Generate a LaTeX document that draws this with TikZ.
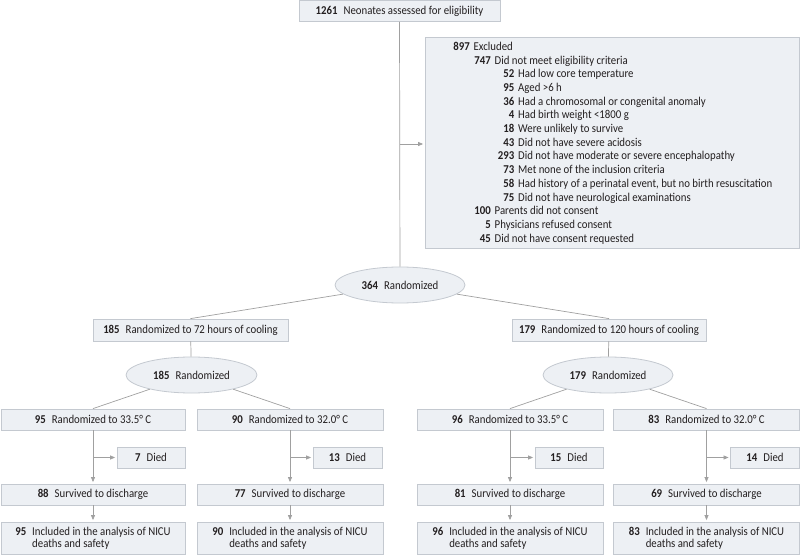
\documentclass[tikz,border=0pt]{standalone}
\usepackage{fontspec}
\setmainfont{Carlito}[FakeStretch=0.9]
\usepackage{tikz}
\usetikzlibrary{shapes.geometric, arrows.meta}

\definecolor{boxfill}{RGB}{237,240,244}
\definecolor{boxline}{RGB}{196,201,208}
\definecolor{linkgray}{RGB}{160,160,160}
\definecolor{inkgray}{RGB}{35,31,32}
\newcommand{\bnum}[1]{\textbf{#1}\enspace}

\begin{document}
\begin{tikzpicture}[x=1bp, y=-1bp,
    every node/.style={font=\fontsize{12bp}{12.4bp}\selectfont, text=inkgray},
    flowbox/.style={draw=boxline, fill=boxfill, line width=0.8bp, inner sep=0, minimum height=21bp},
    randell/.style={ellipse, draw=boxline, fill=boxfill, line width=0.8bp, inner sep=0,
        minimum width=130bp, minimum height=36bp},
    link/.style={draw=linkgray, line width=0.7bp},
    flowarrow/.style={link, -{Triangle[length=5bp, width=4bp]}, shorten >=1.5bp}]
    \useasboundingbox (0,0) rectangle (800,555);

    % Screening and exclusions
    \node[flowbox, minimum width=201bp] (screen) at (399.5,11) {\bnum{1261}Neonates assessed for eligibility};
    \node[flowbox, minimum width=374bp, minimum height=211bp] (excl) at (612,142.5) {};
    \foreach \xr/\nb/\txt [count=\i] in {470/897/Excluded,
        491/747/Did not meet eligibility criteria,
        514.5/52/Had low core temperature,
        514.5/95/Aged >6 h,
        514.5/36/Had a chromosomal or congenital anomaly,
        514.5/4/Had birth weight <1800 g,
        514.5/18/Were unlikely to survive,
        514.5/43/Did not have severe acidosis,
        514.5/293/Did not have moderate or severe encephalopathy,
        514.5/73/Met none of the inclusion criteria,
        514.5/58/{Had history of a perinatal event, but no birth resuscitation},
        514.5/75/Did not have neurological examinations,
        491/100/Parents did not consent,
        491/5/Physicians refused consent,
        491/45/Did not have consent requested} {
        \node[anchor=mid east, inner sep=0] (exn\i) at (\xr, {34.3+13.7*\i}) {\textbf{\nb}};
        \node[anchor=mid west, inner sep=0] (ext\i) at ({\xr+3.5}, {34.3+13.7*\i}) {\txt};
    }

    % First randomization
    \node[randell] (rand) at (400,285) {\bnum{364}Randomized};
    \coordinate (exclfork) at (400,144);
    \draw[link] (screen) -- (rand);
    \draw[flowarrow] (exclfork) -- (exclfork -| excl.west);

    % Cooling duration arms
    \node[flowbox, minimum width=195bp, minimum height=22bp] (arm72) at (190.5,330) {\bnum{185}Randomized to 72 hours of cooling};
    \node[flowbox, minimum width=194bp, minimum height=22bp] (arm120) at (609,330) {\bnum{179}Randomized to 120 hours of cooling};
    \draw[link] (rand) -- (arm72.north);
    \draw[link] (rand) -- (arm120.north);
    \node[randell, minimum width=131bp] (rand72) at (191.5,375) {\bnum{185}Randomized};
    \node[randell] (rand120) at (608,375) {\bnum{179}Randomized};
    \draw[link] (arm72) -- (rand72);
    \draw[link] (arm120) -- (rand120);

    % Temperature groups and outcomes
    \foreach \g/\xc/\w/\xd/\dw/\nr/\tc/\nd/\ns/\src in {
        a/93/184/151/68/95/33.5/7/88/rand72,
        b/290/186/347.5/69/90/32.0/13/77/rand72,
        c/510/186/569/68/96/33.5/15/81/rand120,
        d/706.5/186/765/69/83/32.0/14/69/rand120} {
        \node[flowbox, minimum width=\w bp] (grp\g) at (\xc,419.5) {\bnum{\nr}Randomized to \tc{}° C};
        \draw[link] (\src) -- (grp\g.north);
        \node[flowbox, minimum width=\dw bp] (died\g) at (\xd,457.5) {\bnum{\nd}Died};
        \node[flowbox, minimum width=\w bp] (surv\g) at (\xc,494.5) {\bnum{\ns}Survived to discharge};
        \node[flowbox, minimum width=\w bp, minimum height=32bp, align=left] (incl\g) at (\xc,538)
            {\bnum{\nr}Included in the analysis of NICU\\\hphantom{\bnum{\nr}}deaths and safety};
        \coordinate (fork\g) at (\xc,457.5);
        \draw[flowarrow] (grp\g) -- (surv\g);
        \draw[flowarrow] (fork\g) -- (died\g);
        \draw[flowarrow] (surv\g) -- (incl\g);
    }
\end{tikzpicture}
\end{document}
